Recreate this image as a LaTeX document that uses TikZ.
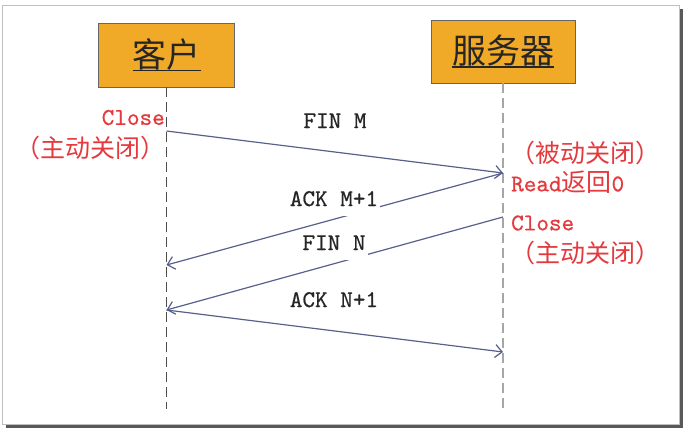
\documentclass[tikz,border=0pt]{standalone}
\usepackage{fontspec}
\newfontfamily\mono{lmmono10-regular.otf}[FakeBold=0.7]
\newfontfamily\cjk{Noto Sans CJK SC}
\newcommand{\hanzi}[1]{{\cjk\fontsize{25}{28}\selectfont #1}}
\newcommand{\sottolinea}[1]{\setbox0\hbox{#1}\rlap{\rule[-4pt]{\wd0}{1.6pt}}\box0}
\usetikzlibrary{arrows.meta}
\definecolor{arancio}{RGB}{240,170,40}
\definecolor{rosso}{RGB}{228,58,62}
\definecolor{freccia}{RGB}{88,96,140}
\begin{document}
\begin{tikzpicture}[x=1pt,y=-1pt,
    scatola/.style={draw=black!60,fill=arancio,line width=0.8pt,inner sep=0pt,
      font=\cjk\fontsize{34}{38}\selectfont,text=black!85},
    vita/.style={dash pattern=on 10pt off 5pt,line width=1.3pt},
    msg/.style={draw=freccia,line width=1.2pt,-{Straight Barb[length=7pt,width=13pt]}},
    etichetta/.style={fill=white,inner sep=2pt,anchor=base,
      font=\mono\fontsize{24}{26}\selectfont,text=black!85},
    nota/.style={inner sep=0pt,font=\mono\fontsize{24}{26}\selectfont,text=rosso}]
    \useasboundingbox (0,0) rectangle (688,432);
    \fill[black!65] (6,9) rectangle (683,428); %ombra
    \draw[black!25,fill=white] (2,5) rectangle (679,424); %cornice
    % i due estremi della connessione
    \node[scatola,minimum width=136pt,minimum height=64pt] (cliente) at (166.5,55) {\sottolinea{客户}};
    \node[scatola,minimum width=144pt,minimum height=63pt] (server) at (503,51.5) {\sottolinea{服务器}};
    \coordinate (fineC) at (166.5,409);
    \coordinate (fineS) at (503,409);
    \draw[vita,draw=black!70] (cliente.south) -- (fineC); %linea cliente
    \draw[vita,draw=black!35] (server.south) -- (fineS); %linea server
    % punti dei messaggi sulle due linee
    \coordinate (c1) at (166.5,131);
    \coordinate (c2) at (166.5,265);
    \coordinate (c3) at (166.5,310);
    \coordinate (s1) at (503,173);
    \coordinate (s2) at (503,217);
    \coordinate (s3) at (503,352);
    \draw[msg] (c1) -- (s1); %FIN M
    \draw[msg] (s1) -- (c2); %ACK M+1
    \draw[msg] (s2) -- (c3); %FIN N
    \draw[msg] (c3) -- (s3); %ACK N+1
    \node[etichetta] (finM) at (335,128) {\strut FIN M};
    \node[etichetta] (ackM) at (334,206) {\strut ACK M+1};
    \node[etichetta] (finN) at (334,250) {\strut FIN N};
    \node[etichetta] (ackN) at (334,307) {\strut ACK N+1};
    % note in rosso
    \node[nota,anchor=east] (closeC) at (165,117.5) {Close};
    \node[nota,anchor=east] (attivoC) at (166,148) {\hanzi{（主动关闭）}};
    \node[nota,anchor=west] (passivoS) at (510,153) {\hanzi{（被动关闭）}};
    \node[nota,anchor=west] (readS) at (511,182) {Read\hanzi{返回}0};
    \node[nota,anchor=west] (closeS) at (511,223) {Close};
    \node[nota,anchor=west] (attivoS) at (510,253) {\hanzi{（主动关闭）}};
  \end{tikzpicture}
\end{document}
